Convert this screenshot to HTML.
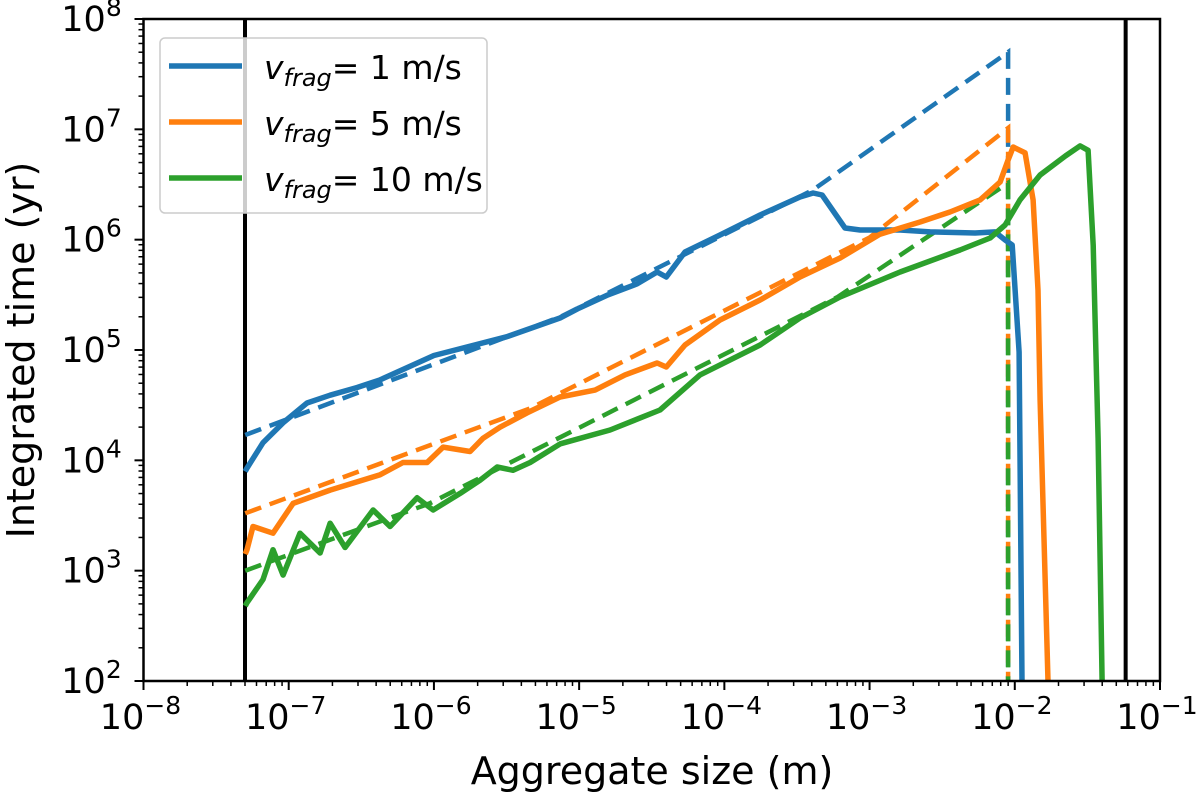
<!DOCTYPE html>
<html><head><meta charset="utf-8"><style>
body{margin:0;background:#fff;width:1200px;height:794px;overflow:hidden}
svg text{font-family:"DejaVu Sans","Liberation Sans",sans-serif;fill:#000}
</style></head><body>
<svg id="chart" width="1200" height="794" viewBox="0 0 1200 794" xmlns="http://www.w3.org/2000/svg"></svg>
<script>
const xTickExps=[-8,-7,-6,-5,-4,-3,-2,-1];
const yTickExps=[2,3,4,5,6,7,8];
const seriesNames=["1","5","10"];
const seriesColors=["#1f77b4","#ff7f0e","#2ca02c"];
const blueLogX=[-7.3,-7.287,-7.177,-7.039,-6.874,-6.715,-6.529,-6.37,-6.0,-5.5,-5.132,-5.0,-4.8,-4.6,-4.463,-4.40,-4.271,-4.03,-3.754,-3.479,-3.389,-3.327,-3.169,-3.065,-2.79,-2.583,-2.273,-2.136,-2.067,-2.018,-1.97,-1.95];
const blueLogY=[3.9,3.93,4.16,4.34,4.52,4.59,4.66,4.73,4.95,5.12,5.29,5.38,5.5,5.6,5.707,5.662,5.888,6.042,6.224,6.387,6.423,6.405,6.106,6.088,6.088,6.07,6.06,6.07,5.997,5.952,4.982,2];
const orangeLogX=[-7.3,-7.287,-7.246,-7.108,-6.97,-6.715,-6.37,-6.213,-6.047,-5.937,-5.751,-5.662,-5.545,-5.359,-5.132,-4.89,-4.684,-4.463,-4.40,-4.271,-4.03,-3.754,-3.479,-3.203,-2.928,-2.652,-2.446,-2.239,-2.101,-2.046,-2.011,-1.929,-1.874,-1.84,-1.826,-1.771];
const orangeLogY=[3.15,3.19,3.4,3.34,3.61,3.73,3.87,3.98,3.98,4.12,4.08,4.2,4.3,4.43,4.574,4.637,4.774,4.882,4.846,5.045,5.272,5.453,5.662,5.834,6.05,6.16,6.251,6.36,6.523,6.722,6.84,6.786,6.36,5.544,4.547,2];
const greenLogX=[-7.3,-7.287,-7.177,-7.108,-7.039,-6.922,-6.784,-6.715,-6.612,-6.419,-6.302,-6.116,-6.006,-5.82,-5.682,-5.565,-5.455,-5.338,-5.13,-4.787,-4.443,-4.168,-3.754,-3.479,-3.203,-2.79,-2.377,-2.17,-2.067,-1.964,-1.826,-1.65,-1.55,-1.495,-1.46,-1.426,-1.399];
const greenLogY=[2.68,2.71,2.92,3.19,2.96,3.34,3.16,3.43,3.21,3.55,3.4,3.66,3.55,3.7,3.82,3.94,3.91,3.98,4.15,4.275,4.456,4.774,5.045,5.29,5.48,5.707,5.906,6.015,6.133,6.36,6.586,6.76,6.85,6.81,5.95,4.2,2];
const blueDashX=[-7.3,-5.13,-3.39,-2.046,-2.046];
const blueDashY=[4.23,5.30,6.45,7.70,2];
const orangeDashX=[-7.3,-5.34,-3.0,-2.046,-2.046];
const orangeDashY=[3.52,4.47,6.02,7.012,2];
const greenDashX=[-7.3,-6.03,-3.22,-2.046,-2.046];
const greenDashY=[3.0,3.61,5.48,6.514,2];
const vLineLogX=[Math.log10(5e-8),Math.log10(5.8e-2)];

const L=143.5,R=1160,T=19,B=681;
const X=e=>L+(e-(-8))*(R-L)/7;
const Y=e=>B-(e-2)*(B-T)/6;
const svg=document.getElementById('chart');
const NS="http://www.w3.org/2000/svg";
function mk(tag,attrs,parent){const el=document.createElementNS(NS,tag);for(const k in attrs)el.setAttribute(k,attrs[k]);(parent||svg).appendChild(el);return el;}
function pts(xs,ys){return xs.map((x,i)=>X(x).toFixed(1)+","+Y(ys[i]).toFixed(1)).join(" ");}

const ticks=mk('g',{});


xTickExps.forEach(e=>{
  mk('line',{x1:X(e),x2:X(e),y1:B,y2:B+9,stroke:'#000','stroke-width':2},ticks);
  if(e<-1)for(let m=2;m<10;m++){const xx=X(e+Math.log10(m));mk('line',{x1:xx,x2:xx,y1:B,y2:B+5,stroke:'#000','stroke-width':1.5},ticks);}
  const t=mk('text',{x:X(e)-3,y:B+48,'font-size':35,'text-anchor':'middle'});
  
  
  t.innerHTML='10<tspan dy="-15" font-size="25">\u2212'+(-e)+'</tspan>';
});
yTickExps.forEach(e=>{
  mk('line',{x1:L,x2:L-9,y1:Y(e),y2:Y(e),stroke:'#000','stroke-width':2},ticks);
  if(e<8)for(let m=2;m<10;m++){const yy=Y(e+Math.log10(m));mk('line',{x1:L,x2:L-5,y1:yy,y2:yy,stroke:'#000','stroke-width':1.5},ticks);}
  const t=mk('text',{x:L-52,y:Y(e)+12,'font-size':35,'text-anchor':'middle'});
  
  
  t.innerHTML='10<tspan dy="-15" font-size="25">'+e+'</tspan>';
});

vLineLogX.forEach(e=>{
  const l=mk('line',{x1:X(e),x2:X(e),y1:T,y2:B,stroke:'#000','stroke-width':4});
  
  
});

[[blueDashX,blueDashY],[orangeDashX,orangeDashY],[greenDashX,greenDashY]].forEach((d,i)=>{
  const p=mk('polyline',{points:pts(d[0],d[1]),fill:'none',stroke:seriesColors[i],'stroke-width':4.5,'stroke-dasharray':'17,9'});
  
  
});
[[blueLogX,blueLogY],[orangeLogX,orangeLogY],[greenLogX,greenLogY]].forEach((d,i)=>{
  const p=mk('polyline',{points:pts(d[0],d[1]),fill:'none',stroke:seriesColors[i],'stroke-width':5.5,'stroke-linejoin':'round'});
  
  
});

const fr=mk('rect',{x:L,y:T,width:R-L,height:B-T,fill:'none',stroke:'#000','stroke-width':2.5});



const lg=mk('g',{});


mk('rect',{x:160,y:38,width:327,height:175,rx:5,fill:'rgba(255,255,255,0.8)',stroke:'#ccc','stroke-width':1.5},lg);
seriesNames.forEach((n,i)=>{
  const yy=66+i*56;
  mk('line',{x1:169,x2:242,y1:yy,y2:yy,stroke:seriesColors[i],'stroke-width':5.5},lg);
  const t=mk('text',{x:264,y:yy+13,'font-size':33},lg);
  
  
  t.innerHTML='<tspan font-style="italic">v</tspan><tspan font-style="italic" font-size="24" dy="7">frag</tspan><tspan dy="-7">= '+n+' m/s</tspan>';
});

const xt=mk('text',{x:652,y:784,'font-size':38,'text-anchor':'middle'});


xt.textContent='Aggregate size (m)';
const yt=mk('text',{x:0,y:0,'font-size':38,'text-anchor':'middle',transform:'translate(34,350) rotate(-90)'});


yt.textContent='Integrated time (yr)';
</script>
</body></html>
